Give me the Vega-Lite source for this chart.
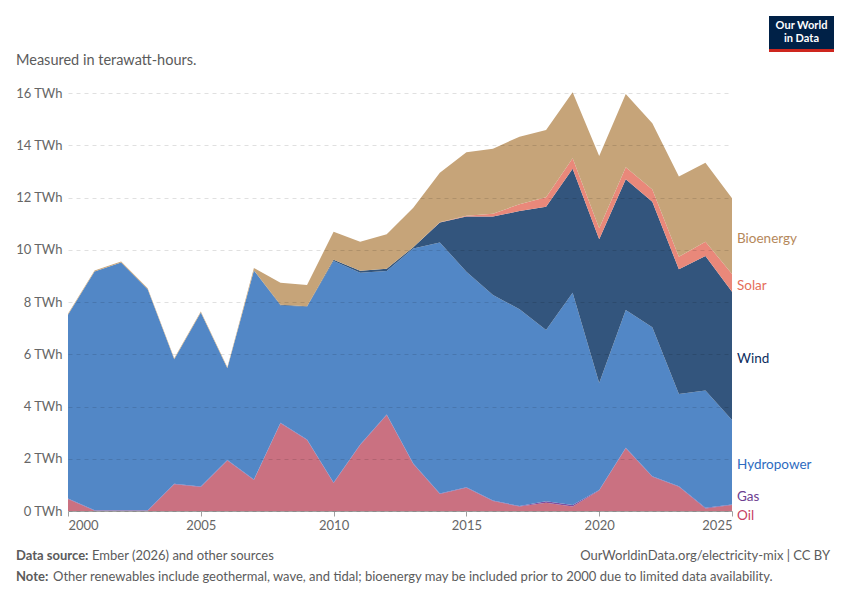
{
  "$schema": "https://vega.github.io/schema/vega-lite/v6.json",
  "width": 664,
  "height": 418,
  "autosize": {"type": "none"},
  "padding": {"left": 68, "top": 93, "right": 118, "bottom": 89},
  "background": "white",
  "config": {
    "view": {"stroke": null},
    "font": "Lato",
    "text": {"font": "Lato"}
  },
  "layer": [
    {
      "data": {
        "values": [
          {"year": 2000, "Oil": 0.46, "Gas": 0.02, "Hydropower": 7.03, "Wind": 0, "Solar": 0, "Bioenergy": 0.04},
          {"year": 2001, "Oil": 0.01, "Gas": 0.02, "Hydropower": 9.14, "Wind": 0, "Solar": 0, "Bioenergy": 0.04},
          {"year": 2002, "Oil": 0.01, "Gas": 0.02, "Hydropower": 9.48, "Wind": 0, "Solar": 0, "Bioenergy": 0.04},
          {"year": 2003, "Oil": 0.01, "Gas": 0.02, "Hydropower": 8.46, "Wind": 0, "Solar": 0, "Bioenergy": 0.04},
          {"year": 2004, "Oil": 1.02, "Gas": 0.02, "Hydropower": 4.77, "Wind": 0, "Solar": 0, "Bioenergy": 0.04},
          {"year": 2005, "Oil": 0.92, "Gas": 0.02, "Hydropower": 6.66, "Wind": 0, "Solar": 0, "Bioenergy": 0.04},
          {"year": 2006, "Oil": 1.93, "Gas": 0.02, "Hydropower": 3.51, "Wind": 0, "Solar": 0, "Bioenergy": 0.04},
          {"year": 2007, "Oil": 1.19, "Gas": 0.02, "Hydropower": 8.0, "Wind": 0, "Solar": 0, "Bioenergy": 0.09},
          {"year": 2008, "Oil": 3.36, "Gas": 0.02, "Hydropower": 4.49, "Wind": 0.02, "Solar": 0, "Bioenergy": 0.85},
          {"year": 2009, "Oil": 2.72, "Gas": 0.02, "Hydropower": 5.08, "Wind": 0.02, "Solar": 0, "Bioenergy": 0.81},
          {"year": 2010, "Oil": 1.07, "Gas": 0.02, "Hydropower": 8.48, "Wind": 0.05, "Solar": 0, "Bioenergy": 1.07},
          {"year": 2011, "Oil": 2.53, "Gas": 0.02, "Hydropower": 6.57, "Wind": 0.08, "Solar": 0, "Bioenergy": 1.11},
          {"year": 2012, "Oil": 3.67, "Gas": 0.02, "Hydropower": 5.5, "Wind": 0.08, "Solar": 0, "Bioenergy": 1.32},
          {"year": 2013, "Oil": 1.8, "Gas": 0.02, "Hydropower": 8.23, "Wind": 0.05, "Solar": 0, "Bioenergy": 1.51},
          {"year": 2014, "Oil": 0.65, "Gas": 0.02, "Hydropower": 9.61, "Wind": 0.76, "Solar": 0.01, "Bioenergy": 1.9},
          {"year": 2015, "Oil": 0.89, "Gas": 0.02, "Hydropower": 8.25, "Wind": 2.11, "Solar": 0.03, "Bioenergy": 2.43},
          {"year": 2016, "Oil": 0.38, "Gas": 0.02, "Hydropower": 7.87, "Wind": 3.0, "Solar": 0.11, "Bioenergy": 2.49},
          {"year": 2017, "Oil": 0.17, "Gas": 0.02, "Hydropower": 7.53, "Wind": 3.76, "Solar": 0.26, "Bioenergy": 2.59},
          {"year": 2018, "Oil": 0.32, "Gas": 0.05, "Hydropower": 6.56, "Wind": 4.72, "Solar": 0.36, "Bioenergy": 2.57},
          {"year": 2019, "Oil": 0.17, "Gas": 0.06, "Hydropower": 8.12, "Wind": 4.75, "Solar": 0.4, "Bioenergy": 2.53},
          {"year": 2020, "Oil": 0.78, "Gas": 0.02, "Hydropower": 4.1, "Wind": 5.5, "Solar": 0.42, "Bioenergy": 2.77},
          {"year": 2021, "Oil": 2.4, "Gas": 0.02, "Hydropower": 5.27, "Wind": 5.01, "Solar": 0.46, "Bioenergy": 2.8},
          {"year": 2022, "Oil": 1.31, "Gas": 0.02, "Hydropower": 5.7, "Wind": 4.81, "Solar": 0.47, "Bioenergy": 2.53},
          {"year": 2023, "Oil": 0.93, "Gas": 0.02, "Hydropower": 3.53, "Wind": 4.77, "Solar": 0.48, "Bioenergy": 3.07},
          {"year": 2024, "Oil": 0.1, "Gas": 0.02, "Hydropower": 4.49, "Wind": 5.15, "Solar": 0.55, "Bioenergy": 3.02},
          {"year": 2025, "Oil": 0.23, "Gas": 0.02, "Hydropower": 3.23, "Wind": 4.91, "Solar": 0.68, "Bioenergy": 2.9}
        ]
      },
      "transform": [
        {"fold": ["Oil", "Gas", "Hydropower", "Wind", "Solar", "Bioenergy"], "as": ["source", "twh"]},
        {"calculate": "indexof(['Oil', 'Gas', 'Hydropower', 'Wind', 'Solar', 'Bioenergy'], datum.source)", "as": "rank"},
        {"stack": "twh", "groupby": ["year"], "sort": [{"field": "rank", "order": "ascending"}], "as": ["y0", "y1"]}
      ],
      "layer": [
        {
          "mark": {"type": "area", "opacity": 1},
          "encoding": {
            "x": {
              "field": "year",
              "type": "quantitative",
              "scale": {"domain": [2000, 2025], "nice": false, "zero": false},
              "axis": {
                "values": [2000, 2005, 2010, 2015, 2020, 2025],
                "format": "d",
                "labelFlush": true,
                "grid": false,
                "title": null,
                "domainColor": "#a0a0a0",
                "tickColor": "#a0a0a0",
                "tickSize": 5,
                "labelColor": "#666666",
                "labelFont": "Lato",
                "labelFontSize": 13,
                "labelPadding": 3
              }
            },
            "y": {
              "field": "y1",
              "type": "quantitative",
              "scale": {"domain": [0, 16], "nice": false},
              "axis": {
                "values": [0, 2, 4, 6, 8, 10, 12, 14, 16],
                "labelExpr": "datum.value + ' TWh'",
                "title": null,
                "domain": false,
                "ticks": false,
                "labelPadding": 6,
                "gridDash": [4, 4],
                "gridColor": "#000000",
                "gridOpacity": 0.12,
                "labelColor": "#666666",
                "labelFont": "Lato",
                "labelFontSize": 13,
                "zindex": 1
              }
            },
            "y2": {"field": "y0"},
            "color": {
              "field": "source",
              "type": "nominal",
              "scale": {
                "domain": ["Oil", "Gas", "Hydropower", "Wind", "Solar", "Bioenergy"],
                "range": ["#ca7181", "#7d4f9f", "#5287c6", "#33557d", "#e9887a", "#c6a479"]
              },
              "legend": null
            }
          }
        },
        {
          "transform": [
            {"filter": "datum.year === 2025"},
            {"calculate": "(datum.y0 + datum.y1) / 2 + (datum.source === 'Gas' ? 0.3 : datum.source === 'Oil' ? -0.3 : -0.1)", "as": "labelPos"}
          ],
          "mark": {"type": "text", "align": "left", "baseline": "middle", "dx": 5, "font": "Lato", "fontSize": 13.5},
          "encoding": {
            "x": {"field": "year", "type": "quantitative"},
            "y": {"field": "labelPos", "type": "quantitative"},
            "text": {"field": "source"},
            "fill": {
              "field": "source",
              "type": "nominal",
              "scale": {
                "domain": ["Oil", "Gas", "Hydropower", "Wind", "Solar", "Bioenergy"],
                "range": ["#c8415f", "#6d3e91", "#2e6bc0", "#0c2d5e", "#e56e5a", "#b5885a"]
              },
              "legend": null
            }
          }
        }
      ]
    },
    {
      "data": {"values": [{}]},
      "layer": [
        {
          "mark": {"type": "text", "x": -52, "y": -32, "align": "left", "baseline": "middle", "font": "Lato", "fontSize": 14.5, "color": "#5b5b5b", "text": "Measured in terawatt-hours."}
        },
        {
          "mark": {"type": "text", "x": -52, "y": 463, "align": "left", "baseline": "middle", "font": "Lato", "fontSize": 13, "fontWeight": "bold", "color": "#5b5b5b", "text": "Data source:"}
        },
        {
          "mark": {"type": "text", "x": 24, "y": 463, "align": "left", "baseline": "middle", "font": "Lato", "fontSize": 13, "color": "#5b5b5b", "text": "Ember (2026) and other sources"}
        },
        {
          "mark": {"type": "text", "x": 762, "y": 463, "align": "right", "baseline": "middle", "font": "Lato", "fontSize": 13, "color": "#5b5b5b", "text": "OurWorldinData.org/electricity-mix | CC BY"}
        },
        {
          "mark": {"type": "text", "x": -52, "y": 484, "align": "left", "baseline": "middle", "font": "Lato", "fontSize": 13, "fontWeight": "bold", "color": "#5b5b5b", "text": "Note:"}
        },
        {
          "mark": {"type": "text", "x": -15, "y": 484, "align": "left", "baseline": "middle", "font": "Lato", "fontSize": 13, "color": "#5b5b5b", "text": "Other renewables include geothermal, wave, and tidal; bioenergy may be included prior to 2000 due to limited data availability."}
        },
        {
          "mark": {"type": "rect", "x": 701, "x2": 766, "y": -77, "y2": -44, "color": "#002147"}
        },
        {
          "mark": {"type": "rect", "x": 701, "x2": 766, "y": -44, "y2": -41, "color": "#ce261e"}
        },
        {
          "mark": {"type": "text", "x": 733.5, "y": -67, "align": "center", "baseline": "middle", "font": "Lato", "fontSize": 11, "fontWeight": "bold", "color": "#ffffff", "text": "Our World"}
        },
        {
          "mark": {"type": "text", "x": 733.5, "y": -54, "align": "center", "baseline": "middle", "font": "Lato", "fontSize": 11, "fontWeight": "bold", "color": "#ffffff", "text": "in Data"}
        }
      ]
    }
  ]
}
